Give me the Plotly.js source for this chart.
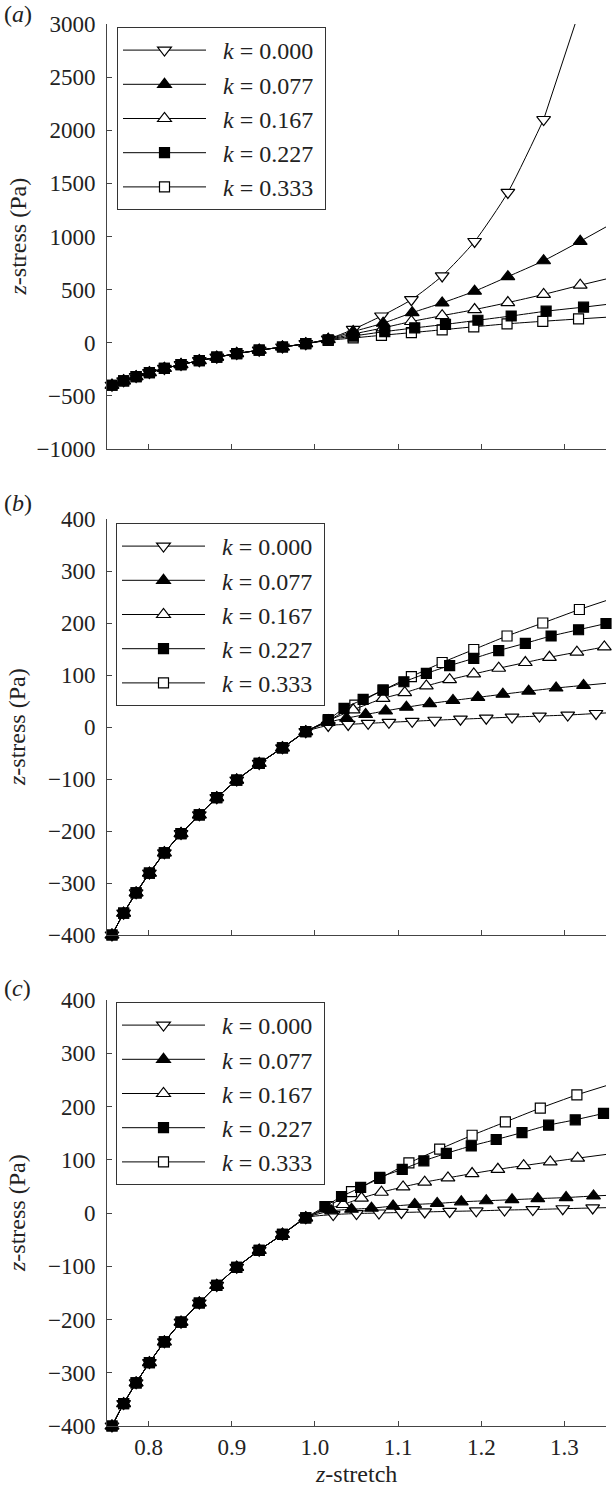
<!DOCTYPE html>
<html><head><meta charset="utf-8">
<script src="https://cdn.plot.ly/plotly-3.0.1.min.js"></script>
<style>html,body{margin:0;padding:0;background:#fff}#chart{width:615px;height:1489px}</style>
</head><body><div id="chart"></div>
<script>
// ---- data ----
const kLabels = ['0.000', '0.077', '0.167', '0.227', '0.333'];
const xTicks = [0.8, 0.9, 1.0, 1.1, 1.2, 1.3];

// common compression branch (all k)
const xCommon = [0.756, 0.770, 0.785, 0.801, 0.819, 0.839, 0.861, 0.882, 0.906, 0.933, 0.961, 0.989];
const yCommon = [-400, -358, -319, -281, -242, -205, -169, -136, -102, -70, -40, -9];

// panel (a)
const aX0 = [1.016, 1.046, 1.080, 1.116, 1.153, 1.192, 1.232, 1.275];
const aY0 = [35, 126, 252, 405, 629, 953, 1415, 2101];
const aX1 = [1.016, 1.046, 1.082, 1.117, 1.153, 1.192, 1.232, 1.275, 1.319];
const aY1 = [32, 105, 184, 283, 375, 485, 622, 772, 955];
const aX2 = [1.016, 1.046, 1.082, 1.116, 1.153, 1.192, 1.232, 1.275, 1.319];
const aY2 = [30, 82, 140, 200, 255, 312, 378, 455, 542];
const aX3 = [1.016, 1.046, 1.084, 1.120, 1.157, 1.196, 1.236, 1.278, 1.323];
const aY3 = [27, 63, 105, 140, 173, 212, 252, 297, 335];
const aX4 = [1.016, 1.046, 1.080, 1.116, 1.153, 1.191, 1.231, 1.274, 1.317];
const aY4 = [22, 45, 70, 95, 122, 150, 178, 202, 224];
const aEndX = [1.32, 1.35, 1.35, 1.35, 1.35];
const aEndY = [3170, 1090, 600, 360, 240];

// panel (b)
const bX0 = [1.016, 1.040, 1.064, 1.089, 1.117, 1.144, 1.175, 1.206, 1.237, 1.270, 1.304, 1.338];
const bY0 = [3, 5, 7, 9, 11, 13, 15, 17, 19, 21, 23, 26];
const bX1 = [1.016, 1.038, 1.061, 1.085, 1.110, 1.138, 1.166, 1.196, 1.226, 1.257, 1.290, 1.323];
const bY1 = [9, 17, 24, 31, 38, 45, 51, 57, 63, 69, 75, 80];
const bX2 = [1.016, 1.046, 1.082, 1.108, 1.134, 1.162, 1.191, 1.221, 1.253, 1.282, 1.315, 1.348];
const bY2 = [12, 33, 55, 66, 79, 91, 102, 113, 124, 134, 144, 154];
const bX3 = [1.016, 1.035, 1.058, 1.082, 1.107, 1.134, 1.162, 1.191, 1.221, 1.253, 1.284, 1.317, 1.350];
const bY3 = [14, 36, 53, 71, 87, 103, 118, 132, 147, 161, 175, 187, 199];
const bX4 = [1.016, 1.048, 1.082, 1.116, 1.153, 1.191, 1.231, 1.274, 1.318];
const bY4 = [12, 42, 71, 97, 124, 149, 175, 200, 226];
const bEndX = [1.35, 1.35, 1.35, 1.35, 1.35];
const bEndY = [27, 84, 155, 199, 243];

// panel (c)
const cX0 = [1.022, 1.050, 1.077, 1.104, 1.132, 1.162, 1.194, 1.228, 1.262, 1.298, 1.334];
const cY0 = [-3, -1, 0, 1, 2, 3, 4, 5.5, 6.5, 8, 9.5];
const cX1 = [1.020, 1.044, 1.068, 1.094, 1.120, 1.147, 1.176, 1.206, 1.237, 1.268, 1.302, 1.335];
const cY1 = [4, 7, 9, 13, 16, 18, 21, 23, 25, 27, 29, 32];
const cX2 = [1.016, 1.034, 1.056, 1.080, 1.106, 1.132, 1.160, 1.189, 1.220, 1.251, 1.283, 1.316];
const cY2 = [8, 16, 28, 39, 49, 58, 66, 74, 82, 89, 96, 103];
const cX3 = [1.012, 1.032, 1.055, 1.078, 1.105, 1.131, 1.158, 1.188, 1.218, 1.249, 1.281, 1.313, 1.347];
const cY3 = [12, 31, 48, 67, 82, 98, 112, 126, 138, 151, 165, 175, 187];
const cX4 = [1.016, 1.044, 1.078, 1.113, 1.150, 1.189, 1.229, 1.271, 1.315];
const cY4 = [12, 40, 65, 94, 120, 146, 171, 197, 222];
const cEndX = [1.35, 1.35, 1.35, 1.35, 1.35];
const cEndY = [10, 33, 110, 188, 239];

// ---- styles ----
const symbols = ['triangle-down', 'triangle-up', 'triangle-up', 'square', 'square'];
const fills = ['white', 'black', 'white', 'black', 'white'];
const sizes = [12, 12, 12, 10, 10];
const drawOrder = [4, 2, 0, 3, 1];
const FONT = 'Liberation Serif';

const panels = [
  {xs: [aX0, aX1, aX2, aX3, aX4], ys: [aY0, aY1, aY2, aY3, aY4], ex: aEndX, ey: aEndY, xa: 'x', ya: 'y', lg: 'legend'},
  {xs: [bX0, bX1, bX2, bX3, bX4], ys: [bY0, bY1, bY2, bY3, bY4], ex: bEndX, ey: bEndY, xa: 'x2', ya: 'y2', lg: 'legend2'},
  {xs: [cX0, cX1, cX2, cX3, cX4], ys: [cY0, cY1, cY2, cY3, cY4], ex: cEndX, ey: cEndY, xa: 'x3', ya: 'y3', lg: 'legend3'}
];

const traces = [];
panels.forEach((p, pi) => {
  for (let i = 0; i < 5; i++) {
    const xs = p.xs[i], ys = p.ys[i];
    traces.push({
      type: 'scatter', mode: 'lines', xaxis: p.xa, yaxis: p.ya,
      x: [xs[xs.length - 1], p.ex[i]], y: [ys[ys.length - 1], p.ey[i]],
      line: {color: 'black', width: 1}, showlegend: false, hoverinfo: 'skip',
      legend: p.lg, legendgroup: 'p' + pi + 'k' + i
    });
  }
  drawOrder.forEach(i => {
    traces.push({
      type: 'scatter', mode: 'lines+markers', xaxis: p.xa, yaxis: p.ya,
      x: xCommon.concat(p.xs[i]), y: yCommon.concat(p.ys[i]),
      name: '\u00a0\u00a0<i>k</i> = ' + kLabels[i] + '\u00a0',
      legend: p.lg, legendgroup: 'p' + pi + 'k' + i, legendrank: i + 1,
      line: {color: 'black', width: 1, shape: 'spline', smoothing: 0.6},
      marker: {symbol: symbols[i], size: sizes[i], color: fills[i], line: {color: 'black', width: 1.2}},
      cliponaxis: false
    });
  });
});

const xDom = [107 / 615, 606 / 615];
const H = 1489;
const yDomA = [1 - 449 / H, 1 - 24 / H];
const yDomB = [1 - 935 / H, 1 - 519 / H];
const yDomC = [1 - 1426 / H, 1 - 1000 / H];

function xAxis(anchor, labels) {
  return {
    domain: xDom, anchor: anchor, range: [0.75, 1.35], tickvals: xTicks, tickformat: '.1f',
    ticks: 'inside', ticklen: 5, tickwidth: 1, tickcolor: '#444', ticklabelstandoff: 0,
    showline: true, linecolor: '#444', linewidth: 1, showgrid: false, zeroline: false,
    showticklabels: labels, tickfont: {family: FONT, size: 23, color: '#222'}
  };
}
function yAxis(anchor, dom, range, dtick) {
  return {
    domain: dom, anchor: anchor, range: range, dtick: dtick, tick0: 0,
    ticks: 'inside', ticklen: 5, tickwidth: 1, tickcolor: '#444', ticklabelstandoff: 6,
    showline: true, linecolor: '#444', linewidth: 1, showgrid: false, zeroline: false,
    tickfont: {family: FONT, size: 23, color: '#222'}
  };
}
function legendBox(x, yTop) {
  return {
    x: x, y: yTop, xanchor: 'left', yanchor: 'top', bgcolor: 'white',
    bordercolor: '#333', borderwidth: 1, itemwidth: 83, tracegroupgap: 0,
    font: {family: FONT, size: 24, color: '#222'}, itemclick: false, itemdoubleclick: false
  };
}

const annFont = {family: FONT, size: 24, color: '#222'};
const annotations = [
  {text: '(<i>a</i>)', x: 2 / 615, y: 1 - 14 / H},
  {text: '(<i>b</i>)', x: 2 / 615, y: 1 - 503 / H},
  {text: '(<i>c</i>)', x: 2 / 615, y: 1 - 988 / H}
].map(a => Object.assign(a, {xref: 'paper', yref: 'paper', xanchor: 'left', yanchor: 'middle', showarrow: false, font: annFont}));
[yDomA, yDomB, yDomC].forEach(d => {
  annotations.push({text: '<i>z</i>-stress (Pa)', xref: 'paper', yref: 'paper', x: 17 / 615, y: (d[0] + d[1]) / 2,
    textangle: -90, xanchor: 'center', yanchor: 'middle', showarrow: false, font: annFont});
});
annotations.push({text: '<i>z</i>-stretch', xref: 'paper', yref: 'paper', x: 356 / 615, y: 1 - 1459 / H,
  xanchor: 'center', yanchor: 'top', showarrow: false, font: annFont});

const layout = {
  width: 615, height: 1489, margin: {l: 0, r: 0, t: 0, b: 0},
  paper_bgcolor: 'white', plot_bgcolor: 'white', showlegend: true,
  font: {family: FONT, color: '#222'},
  xaxis: xAxis('y', false), xaxis2: xAxis('y2', false), xaxis3: xAxis('y3', true),
  yaxis: yAxis('x', yDomA, [-1000, 3000], 500),
  yaxis2: yAxis('x2', yDomB, [-400, 400], 100),
  yaxis3: yAxis('x3', yDomC, [-400, 400], 100),
  legend: legendBox(117 / 615, 1 - 27 / H),
  legend2: legendBox(116 / 615, 1 - 523 / H),
  legend3: legendBox(116 / 615, 1 - 1002 / H),
  annotations: annotations
};

Plotly.newPlot('chart', traces, layout, {staticPlot: true, displayModeBar: false});
</script>
</body></html>
